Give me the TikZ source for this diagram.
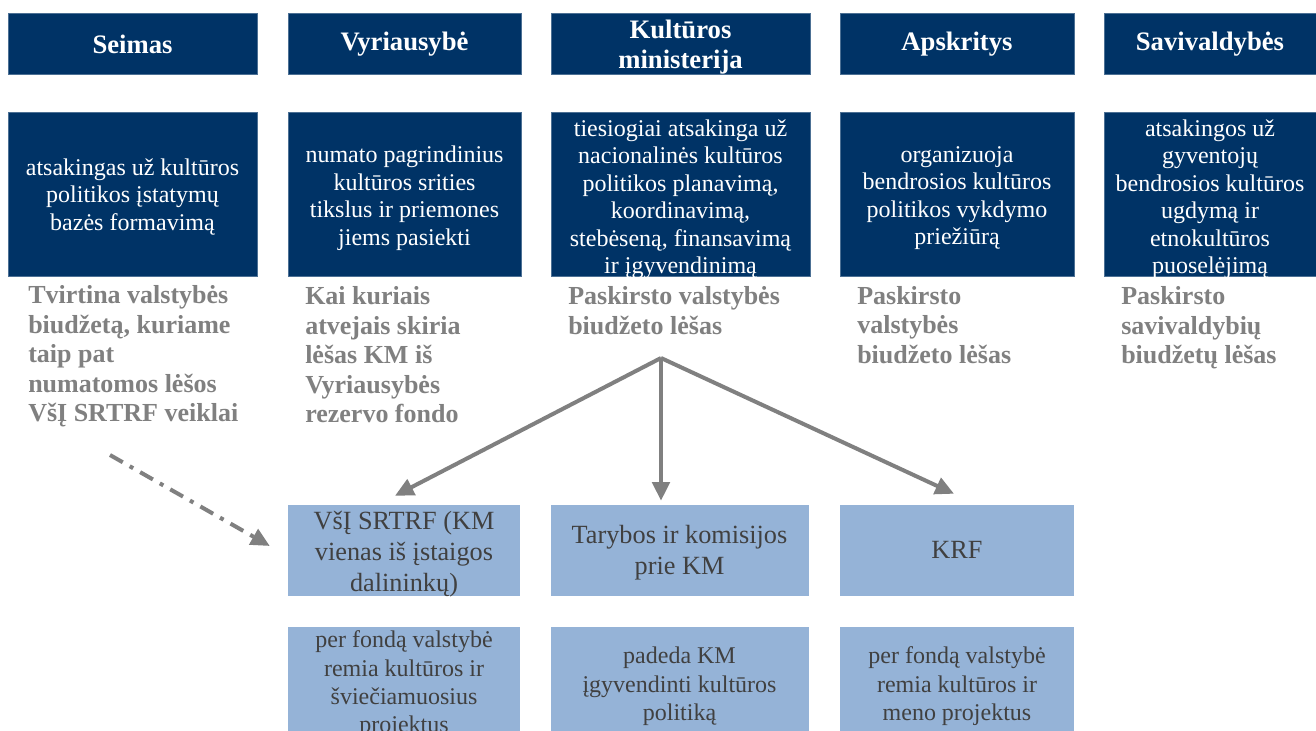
\documentclass[tikz,border=0pt]{standalone}
\usepackage{fontspec}
\setmainfont{Liberation Serif}
\usetikzlibrary{arrows.meta}
\definecolor{navy}{RGB}{0,51,102}
\definecolor{lightblue}{RGB}{149,179,215}
\definecolor{arrowgray}{RGB}{128,128,128}
\definecolor{boxtext}{RGB}{64,64,64}
\tikzset{
  darkbox/.style={fill=navy, draw=navy!70!white, line width=0.4pt, inner sep=0pt},
  lightbox/.style={fill=lightblue, draw=none, inner sep=0pt},
  titletext/.style={text=white, inner sep=0pt, align=center, font=\fontsize{20}{22.5}\selectfont\bfseries},
  desctext/.style={text=white, inner sep=0pt, align=center, font=\fontsize{18}{20.6}\selectfont},
  lighttext/.style={text=boxtext, inner sep=0pt, align=center, font=\fontsize{19.7}{23.25}\selectfont},
  lightdesc/.style={text=boxtext, inner sep=0pt, align=center, font=\fontsize{18}{21.3}\selectfont},
  graytext/.style={text=arrowgray, inner sep=0pt, align=left, anchor=west,
    font=\fontsize{19.5}{22.1}\selectfont\bfseries},
  flow/.style={draw=arrowgray, line width=3pt, -{Triangle[length=14pt,width=13pt]}},
  dashflow/.style={draw=arrowgray, line width=3pt, dash pattern=on 11pt off 6pt on 3pt off 6pt,
    -{Triangle[length=14pt,width=13pt]}}
}
\begin{document}
\begin{tikzpicture}[x=0.75pt,y=-0.75pt]
\useasboundingbox[fill=white] (0,0) rectangle (1316,731);
% row 1: institutions
\node[darkbox, minimum width=186.75pt, minimum height=45.75pt] (seimas) at (132.5,43.5) {};
\node[darkbox, minimum width=174.75pt, minimum height=45.75pt] (vyr) at (404.5,43.5) {};
\node[darkbox, minimum width=194.25pt, minimum height=45.75pt] (km) at (680.5,43.5) {};
\node[darkbox, minimum width=175.5pt, minimum height=45.75pt] (apsk) at (957,43.5) {};
\node[darkbox, minimum width=159pt, minimum height=45.75pt] (sav) at (1210,43.5) {};
\node[titletext] (seimast) at ([yshift=-0.5pt]seimas.center) {Seimas};
\node[titletext] (vyrt) at ([yshift=-0.5pt]vyr.center) {Vyriausybė};
\node[titletext] (kmt) at ([yshift=-3pt]km.center) {Kultūros\\ministerija};
\node[titletext] (apskt) at ([yshift=-0.5pt]apsk.center) {Apskritys};
\node[titletext] (savt) at ([yshift=-0.5pt]sav.center) {Savivaldybės};
% row 2: roles
\node[darkbox, minimum width=186.75pt, minimum height=123pt] (seimasd) at (132.5,194) {};
\node[darkbox, minimum width=174.75pt, minimum height=123pt] (vyrd) at (404.5,194) {};
\node[darkbox, minimum width=194.25pt, minimum height=123pt] (kmd) at (680.5,194) {};
\node[darkbox, minimum width=175.5pt, minimum height=123pt] (apskd) at (957,194) {};
\node[darkbox, minimum width=159pt, minimum height=123pt] (savd) at (1210,194) {};
\node[desctext] (seimasdt) at ([yshift=-2.2pt]seimasd.center) {atsakingas už kultūros\\politikos įstatymų\\bazės formavimą};
\node[desctext] (vyrdt) at ([yshift=-3.2pt]vyrd.center) {numato pagrindinius\\kultūros srities\\tikslus ir priemones\\jiems pasiekti};
\node[desctext] (kmdt) at ([yshift=-4pt]kmd.center) {tiesiogiai atsakinga už\\nacionalinės kultūros\\politikos planavimą,\\koordinavimą,\\stebėseną, finansavimą\\ir įgyvendinimą};
\node[desctext] (apskdt) at ([yshift=-3.2pt]apskd.center) {organizuoja\\bendrosios kultūros\\politikos vykdymo\\priežiūrą};
\node[desctext] (savdt) at ([yshift=-4pt]savd.center) {atsakingos už\\gyventojų\\bendrosios kultūros\\ugdymą ir\\etnokultūros\\puoselėjimą};
% gray texts: funding
\node[graytext] (g1) at (28,356.5) {Tvirtina valstybės\\biudžetą, kuriame\\taip pat\\numatomos lėšos\\VšĮ SRTRF veiklai};
\node[graytext] (g2) at (305,355) {Kai kuriais\\atvejais skiria\\lėšas KM iš\\Vyriausybės\\rezervo fondo};
\node[graytext] (g3) at (568,310.5) {Paskirsto valstybės\\biudžeto lėšas};
\node[graytext] (g4) at (857,325) {Paskirsto\\valstybės\\biudžeto lėšas};
\node[graytext] (g5) at (1121,328) {Paskirsto\\savivaldybių\\biudžetų lėšas};
% row 3
\node[lightbox, minimum width=174pt, minimum height=68.25pt] (vsi) at (404,550.5) {};
\node[lightbox, minimum width=193.5pt, minimum height=68.25pt] (tar) at (679.5,550.5) {};
\node[lightbox, minimum width=175.5pt, minimum height=68.25pt] (krf) at (957,550.5) {};
\node[lighttext] (vsit) at ([yshift=-2.5pt]vsi.center) {VšĮ SRTRF (KM\\vienas iš įstaigos\\dalininkų)};
\node[lighttext] (tart) at ([yshift=-1.5pt]tar.center) {Tarybos ir komisijos\\prie KM};
\node[lighttext] (krft) at ([yshift=0.5pt]krf.center) {KRF};
% row 4
\node[lightbox, minimum width=174pt, minimum height=78pt] (vsid) at (404,679) {};
\node[lightbox, minimum width=193.5pt, minimum height=78pt] (tard) at (679.5,679) {};
\node[lightbox, minimum width=175.5pt, minimum height=78pt] (krfd) at (957,679) {};
\node[lightdesc] (vsidt) at ([yshift=-4pt]vsid.center) {per fondą valstybė\\remia kultūros ir\\šviečiamuosius\\projektus};
\node[lightdesc] (tardt) at ([yshift=-5.5pt]tard.center) {padeda KM\\įgyvendinti kultūros\\politiką};
\node[lightdesc] (krfdt) at ([yshift=-5.5pt]krfd.center) {per fondą valstybė\\remia kultūros ir\\meno projektus};
% connectors
\coordinate (split) at (661,358);
\coordinate (t1) at ([xshift=-6.75pt,yshift=6.75pt]vsi.north);
\coordinate (tarn) at ([yshift=3pt]tar.north);
\coordinate (t2) at (split |- tarn);
\coordinate (t3) at ([xshift=-2.25pt,yshift=8.25pt]krf.north);
\coordinate (d0) at (110,455);
\coordinate (d1) at ([xshift=-13.5pt,yshift=3.4pt]vsi.west);
\draw[flow] (split) -- (t1);
\draw[flow] (split) -- (t2);
\draw[flow] (split) -- (t3);
\draw[dashflow] (d0) -- (d1);
\end{tikzpicture}
\end{document}
